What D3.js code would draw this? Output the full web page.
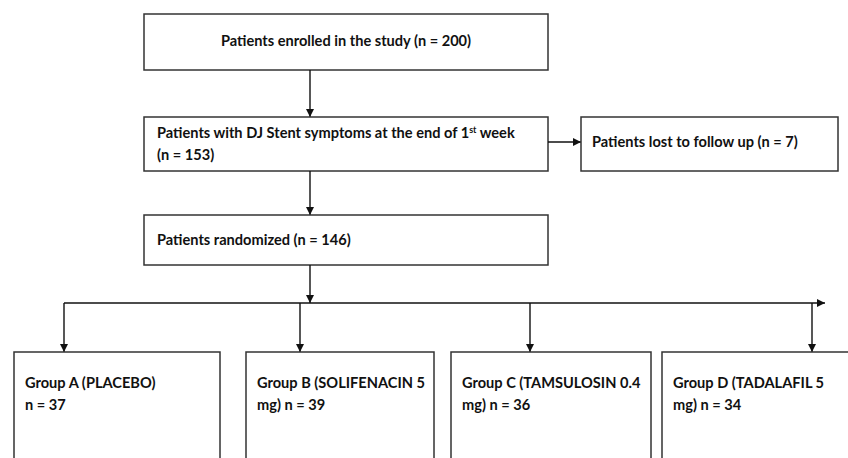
<!DOCTYPE html>
<html><head><meta charset="utf-8">
<script src="https://cdn.jsdelivr.net/npm/d3@7"></script>
<style>body{margin:0;background:#fff}svg{display:block}text{font-family:Lato,"Open Sans",sans-serif;font-weight:bold;fill:#111}</style>
</head><body><div id="c"></div>
<script>
// Flow stages (top to bottom)
const enrolledN = 200;
const symptomsN = 153;
const lostN = 7;
const randomizedN = 146;
// Treatment groups
const groupLetters = ["A", "B", "C", "D"];
const groupLine1 = ["Group A (PLACEBO)", "Group B (SOLIFENACIN 5", "Group C (TAMSULOSIN 0.4", "Group D (TADALAFIL 5"];
const groupLine2 = ["n = ", "mg) n = ", "mg) n = ", "mg) n = "];
const groupN = [37, 39, 36, 34];

const W = 848, H = 458;
const svg = d3.select("#c").append("svg").attr("width", W).attr("height", H);
svg.append("defs").append("marker").attr("id","ah").attr("viewBox","0 0 10 10")
  .attr("refX",10).attr("refY",5).attr("markerWidth",8).attr("markerHeight",8)
  .attr("markerUnits","userSpaceOnUse").attr("orient","auto")
  .append("path").attr("d","M0,0L10,5L0,10Z").attr("fill","#111");

const box = (x,y,w,h) => svg.append("rect").attr("x",x).attr("y",y).attr("width",w).attr("height",h)
  .attr("fill","#fff").attr("stroke","#333").attr("stroke-width",1.5);
const line = (pts, arrow) => {
  const p = svg.append("path").attr("d", d3.line()(pts)).attr("fill","none").attr("stroke","#111").attr("stroke-width",1.4);
  if (arrow) p.attr("marker-end","url(#ah)");
};
const fs = 14.6;

// Main column
const mx = 144, mw = 404, cx = 310;
box(mx, 14, mw, 56);
svg.append("text").attr("x", mx + mw/2).attr("y", 46).attr("text-anchor","middle").attr("font-size",fs)
  .text(`Patients enrolled in the study (n = ${enrolledN})`);
line([[cx,70],[cx,117]], true);

box(mx, 117, mw, 54);
const t2 = svg.append("text").attr("x", 157).attr("y", 138).attr("font-size",fs);
t2.append("tspan").text("Patients with DJ Stent symptoms at the end of 1");
t2.append("tspan").attr("font-size",9).attr("dy",-5).text("st");
t2.append("tspan").attr("dy",5).text(" week");
svg.append("text").attr("x",157).attr("y",160).attr("font-size",fs).text(`(n = ${symptomsN})`);

// Lost to follow-up
line([[548,142],[581,142]], true);
box(581, 117, 257, 54);
svg.append("text").attr("x",592).attr("y",147).attr("font-size",fs).text(`Patients lost to follow up (n = ${lostN})`);

line([[cx,171],[cx,215]], true);
box(mx, 215, mw, 50);
svg.append("text").attr("x",157).attr("y",245).attr("font-size",fs).text(`Patients randomized (n = ${randomizedN})`);
line([[cx,265],[cx,303]], true);

// Distribution bar
const boxL = [14, 246, 451, 662];
const boxR = [220, 434, 651, 860];
const arrowX = [64, 300, 530, 812];
const bx = d3.scaleOrdinal().domain(groupLetters).range(boxL);
const br = d3.scaleOrdinal().domain(groupLetters).range(boxR);
const ax = d3.scaleOrdinal().domain(groupLetters).range(arrowX);
line([[ax("A"),303],[825,303]], true);
groupLetters.forEach((g,i) => {
  line([[ax(g),303],[ax(g),352]], true);
  box(bx(g), 352, br(g)-bx(g), 130);
  svg.append("text").attr("x", bx(g)+11).attr("y",388).attr("font-size",fs).text(groupLine1[i]);
  svg.append("text").attr("x", bx(g)+11).attr("y",410).attr("font-size",fs).text(groupLine2[i] + groupN[i]);
});
</script></body></html>
